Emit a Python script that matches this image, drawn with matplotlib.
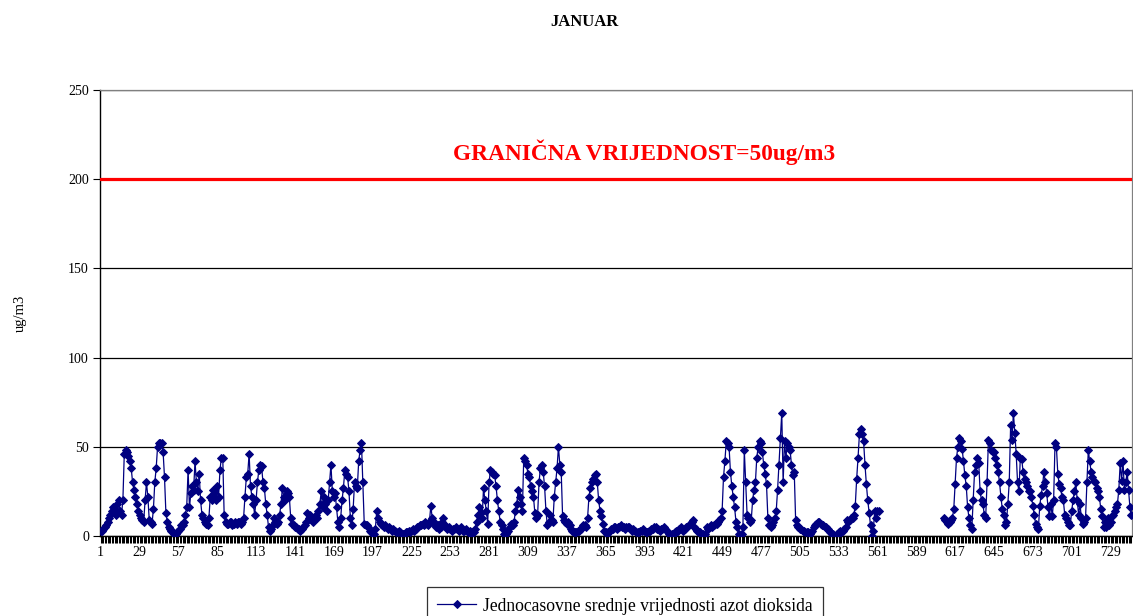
import numpy as np
import matplotlib
matplotlib.use("Agg")
import matplotlib.pyplot as plt
import matplotlib.transforms as mtransforms

# ---- data: hourly NO2 values, January (744 hours) ----
lead = [3, 3]
d01 = [4,5,6,8,10,12,14,16,15,12,18,20,14,12,20,46,48,47,45,42,38,30,26,22]
d02 = [18,14,12,10,9,8,20,30,22,9,8,7,15,30,38,50,52,52,52,47,33,13,8,5]
d03 = [4,3,2,1,1,2,3,4,6,6,8,12,16,37,16,24,28,26,42,30,25,35,20,12]
d04 = [10,8,7,6,10,22,20,26,24,20,28,22,37,44,44,12,8,7,7,8,8,6,7,8]
d05 = [7,8,8,7,8,10,22,33,35,46,28,22,18,12,20,30,37,40,39,30,27,18,12,5]
d06 = [3,4,6,10,8,7,8,12,18,27,22,20,25,24,22,10,7,6,5,5,4,4,3,4]
d07 = [5,6,8,13,10,12,9,8,10,12,10,14,18,25,16,22,18,14,20,30,40,25,22,24]
d08 = [16,8,5,10,20,27,37,35,33,25,10,6,15,30,28,27,42,48,52,30,7,6,6,5]
d09 = [3,2,1,1,4,14,10,8,7,6,5,6,5,4,5,4,3,4,3,2,2,3,2,1]
d10 = [1,1,2,2,3,2,3,4,3,4,5,5,6,6,7,6,8,7,6,8,17,10,8,6]
ins1 = [5]
d11 = [6,4,5,8,10,6,5,4,5,4,3,4,4,5,4,3,4,5,3,3,4,3,2,3]
d12 = [1,2,2,4,8,12,16,13,10,27,20,14,7,30,37,36,35,34,28,20,14,8,6,4]
d13 = [1,1,2,3,5,7,6,8,14,18,26,22,18,14,44,42,40,35,33,28,25,22,13,10]
d14 = [12,30,38,40,36,28,14,6,8,12,9,8,22,30,38,50,40,36,11,9,8,7,8,6]
d15 = [4,3,2,2,2,3,3,4,5,6,6,5,10,22,27,30,32,34,35,30,20,14,11,7]
d16 = [3,2,1,2,3,4,4,5,5,4,5,5,6,5,5,4,5,5,5,4,3,4,3,2]
ins2 = [2]
d17 = [2,3,3,4,3,2,2,3,3,4,4,5,5,4,4,3,4,4,5,4,3,2,1,0]
ins3 = [1]
d18 = [1,2,3,3,4,5,4,3,4,5,5,6,7,8,9,5,4,3,2,2,1,1,0,1]
d19 = [5,4,5,6,5,6,7,7,8,9,10,14,33,42,53,52,50,36,28,22,16,8,5,1]
d20 = [0,1,5,48,30,12,10,8,9,20,26,30,44,50,53,52,47,40,35,29,10,6,5,6]
d21 = [8,10,14,26,40,55,69,30,53,44,52,50,48,40,34,36,9,6,5,4,4,3,3,2]
d22 = [2,2,1,2,3,5,6,7,8,8,7,6,6,5,5,4,3,2,1,1,0,0,1,2]
d23 = [3,2,3,4,5,9,8,9,10,10,12,17,32,44,57,60,57,53,40,29,20,13,6,0]
d24 = [3,14,10,14,14]
missing_hours = 46
e1 = [10,9,8,7,8,9,10,15,29,44,50,55,53,49,42,34,28,16,10,6,4,20,36,40,44,41,25,20,18,12]
e2 = [10,30,54,52,48,47,47,44,40,36,30,22,15,12,6,8,18,30,62,54,69,58,46,30,25,44,43,36,32,30]
e3 = [28,25,25,22,17,12,7,5,4,17,23,28,36,30,24,16,11,18,11,20,52,50,35,29,27,22,20,12,10,8]
e4 = [6,6,14,20,25,30,20,12,18,10,7,8,10,30,48,42,36,33,31,30,27,25,22,15,11,5,8,5,10,6]
e5 = [8,11,12,14,16,18,26,41,31,42,26,30,36,26,16,12]

limit_value = 200
tick_labels = list(range(1, 745, 28))
series_label = "Jednocasovne srednje vrijednosti azot dioksida"
limit_label = "GRANIČNA VRIJEDNOST=50ug/m3"
title = "JANUAR"
ylabel = "ug/m3"

parts = [lead, d01, d02, d03, d04, d05, d06, d07, d08, d09, d10, ins1,
         d11, d12, d13, d14, d15, d16, ins2, d17, ins3, d18, d19, d20,
         d21, d22, d23, d24]
vals = []
for p in parts:
    vals += [float(v) for v in p]
vals += [np.nan] * missing_hours
for p in [e1, e2, e3, e4, e5]:
    vals += [float(v) for v in p]
vals = np.array(vals)
n = len(vals)
hours = np.arange(1, n + 1)

# ---- figure ----
serif = ["Liberation Serif", "DejaVu Serif"]
plt.rcParams["font.family"] = serif

W, H = 1133, 616
fig = plt.figure(figsize=(W / 100, H / 100), dpi=100)
ax = fig.add_axes([100 / W, 1 - 536 / H, 1032 / W, 446 / H])

ax.set_xlim(0.5, 744.5)
ax.set_ylim(0, 250)

ax.set_yticks([0, 50, 100, 150, 200, 250])
ax.yaxis.grid(True, color="black", linewidth=0.9)
ax.set_axisbelow(True)

ax.plot(hours, vals, color="#000080", linewidth=0.9, marker="D",
        markersize=3.8, markeredgewidth=0.7, markeredgecolor="#000080",
        markerfacecolor="#000080", label=series_label, zorder=3)

ax.axhline(limit_value, color="#ff0000", linewidth=2.3, zorder=4)

trans = mtransforms.blended_transform_factory(ax.transAxes, ax.transData)
ax.text((644 - 100) / 1032, 215, limit_label, transform=trans,
        color="#ff0000", fontsize=16.8, fontweight="bold",
        ha="center", va="center")

ax.set_xticks(tick_labels)
ax.set_xticklabels([str(t) for t in tick_labels], fontsize=10)
ax.set_xticks(np.arange(1, 745), minor=True)
ax.tick_params(axis="x", which="both", direction="out", length=5,
               width=0.75, color="black", pad=2)
ax.tick_params(axis="y", which="major", direction="out", length=5,
               width=0.8, color="black", labelsize=10, pad=3)

for s in ["left", "bottom"]:
    ax.spines[s].set_color("black")
    ax.spines[s].set_linewidth(1.0)
for s in ["top", "right"]:
    ax.spines[s].set_color("#808080")
    ax.spines[s].set_linewidth(0.9)

fig.text(584 / W, 1 - 22 / H, title, ha="center", va="center",
         fontsize=12, fontweight="bold")
fig.text(20 / W, 1 - 313 / H, ylabel, ha="center", va="center",
         rotation=90, fontsize=10.5)

leg = fig.legend(loc="upper center", bbox_to_anchor=(625 / W, 1 - 587 / H),
                 fontsize=12.7, frameon=True, fancybox=False, edgecolor="black",
                 handlelength=2.2, borderpad=0.6, handletextpad=0.4,
                 borderaxespad=0)
leg.get_frame().set_linewidth(0.9)

fig.savefig("out.png", dpi=100)
